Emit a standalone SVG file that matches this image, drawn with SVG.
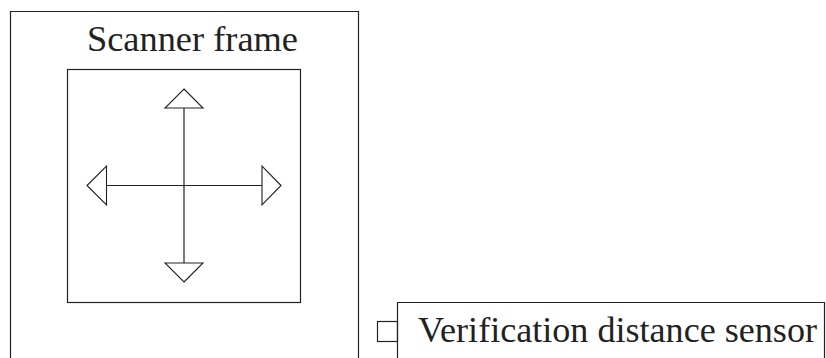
<svg xmlns="http://www.w3.org/2000/svg" width="826" height="358" viewBox="0 0 826 358">
<style>
.box{fill:none;stroke:#222;stroke-width:1.2}
.line{stroke:#222;stroke-width:1.2;fill:none}
.head{fill:#fff;stroke:#222;stroke-width:1.1;stroke-linejoin:miter}
.lbl{font-family:"Liberation Serif","Times New Roman",serif;font-size:36px;fill:#222}
</style>
<rect width="826" height="358" fill="#fff"/>
<g id="scanner-frame">
<path class="box" d="M10.5,362 V11.5 H358.5 V362"/>
<text class="lbl" x="87" y="51" textLength="211" lengthAdjust="spacingAndGlyphs">Scanner frame</text>
</g>
<g id="stage">
<rect class="box" x="67.5" y="69.5" width="233" height="233"/>
</g>
<g id="connectors">
<line class="line" x1="184" y1="108" x2="184" y2="263"/>
<line class="line" x1="106.5" y1="185.5" x2="262" y2="185.5"/>
<polygon class="head" points="184,89 203,108 165,108"/>
<polygon class="head" points="184,282 203,263 165,263"/>
<polygon class="head" points="87,185.5 106.5,166 106.5,205"/>
<polygon class="head" points="281,185.5 262,166 262,205"/>
</g>
<g id="sensor">
<path class="box" d="M397.5,362 V302.5 H824.5 V362"/>
<rect class="box" x="377.5" y="321.5" width="20" height="20"/>
<text class="lbl" x="418" y="341.5" textLength="399" lengthAdjust="spacingAndGlyphs">Verification distance sensor</text>
</g>
</svg>
